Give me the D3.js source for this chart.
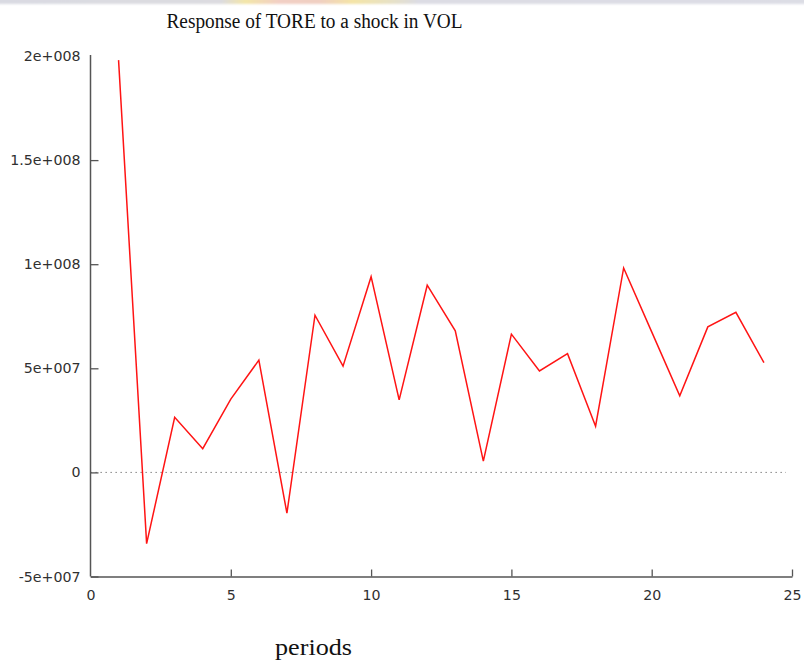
<!DOCTYPE html>
<html>
<head>
<meta charset="utf-8">
<script src="https://cdn.jsdelivr.net/npm/d3@7/dist/d3.min.js"></script>
<style>
  html, body { margin: 0; padding: 0; background: #ffffff; }
  svg { display: block; }
</style>
</head>
<body>
<svg id="chart" width="804" height="664"></svg>
<script>
// Impulse response of TORE to a shock in VOL, periods 1..24
const periods = d3.range(1, 25);
const response = [
  1.98e8, -3.42e7, 2.65e7, 1.14e7, 3.52e7, 5.39e7, -1.96e7, 7.55e7,
  5.10e7, 9.40e7, 3.48e7, 8.99e7, 6.80e7, 0.54e7, 6.64e7, 4.87e7,
  5.70e7, 2.22e7, 9.82e7, 6.75e7, 3.68e7, 6.99e7, 7.69e7, 5.27e7
];
const xTicks = [0, 5, 10, 15, 20, 25];
const yTicks = [-5e7, 0, 5e7, 1e8, 1.5e8, 2e8];

const titleText = "Response of TORE to a shock in VOL";
const xLabelText = "periods";

const svg = d3.select("#chart");

// faint strip along the top edge
const defs = svg.append("defs");
const grad = defs.append("linearGradient").attr("id", "topStrip");
[[0, "#d9dae2"], [0.28, "#dcdbe0"], [0.31, "#f3e6a8"], [0.35, "#f2cfc4"],
 [0.40, "#f0cfc2"], [0.44, "#f4e4a6"], [0.49, "#e6e1c8"], [0.52, "#dcdce4"], [1, "#dcdde5"]]
  .forEach(([o, c]) => grad.append("stop").attr("offset", o).attr("stop-color", c));
const blur = defs.append("filter").attr("id", "soft").attr("y", "-100%").attr("height", "300%");
blur.append("feGaussianBlur").attr("stdDeviation", 1.2);
svg.append("rect")
  .attr("x", -10).attr("y", -4).attr("width", 824).attr("height", 8)
  .attr("fill", "url(#topStrip)")
  .attr("filter", "url(#soft)");

const x = d3.scaleLinear().domain([0, 25]).range([90.5, 792]);
const y = d3.scaleLinear().domain([-5e7, 2e8]).range([576.5, 56]);

// exponent written with three digits, e.g. 1.5e+008
const fmt = v => {
  if (v === 0) return "0";
  const [m, e] = v.toExponential().split("e");
  const sign = e[0];
  const digits = e.slice(1).padStart(3, "0");
  return m + "e" + sign + digits;
};

const axisColor = "#555555";
const labelColor = "#303030";
const tickFont = "'DejaVu Sans', Verdana, sans-serif";

// zero reference line
svg.append("line")
  .attr("x1", x(0)).attr("x2", 786)
  .attr("y1", y(0)).attr("y2", y(0))
  .attr("stroke", "#707070")
  .attr("stroke-width", 1)
  .attr("stroke-dasharray", "1.3,3.7");

// left axis
const gy = svg.append("g")
  .attr("transform", `translate(${x(0)},0)`)
  .call(d3.axisLeft(y).tickValues(yTicks).tickFormat(fmt)
    .tickSize(-8).tickSizeOuter(0).tickPadding(10));
gy.select(".domain").attr("d", `M0,55V${y(-5e7)}`);
gy.selectAll(".tick").filter(d => d === 2e8).select("line").remove();

// bottom axis
const gx = svg.append("g")
  .attr("transform", `translate(0,${y(-5e7)})`)
  .call(d3.axisBottom(x).tickValues(xTicks).tickFormat(d3.format("d"))
    .tickSize(-7).tickSizeOuter(0).tickPadding(13));
gx.selectAll(".tick").filter(d => d === 0).select("line").remove();

[gx, gy].forEach(g => {
  g.select(".domain").attr("stroke", axisColor).attr("stroke-width", 1.5);
  g.selectAll(".tick line").attr("stroke", axisColor).attr("stroke-width", 1.3);
  g.selectAll(".tick text")
    .attr("fill", labelColor)
    .style("font-family", tickFont)
    .style("font-size", "14.2px");
});

// response line
const line = d3.line()
  .x((d, i) => x(periods[i]))
  .y(d => y(d));
svg.append("path")
  .datum(response)
  .attr("d", line)
  .attr("fill", "none")
  .attr("stroke", "#ff1414")
  .attr("stroke-width", 1.5)
  .attr("stroke-linejoin", "miter");

// title
svg.append("text")
  .attr("x", 314.5).attr("y", 28)
  .attr("text-anchor", "middle")
  .attr("textLength", 296)
  .attr("lengthAdjust", "spacingAndGlyphs")
  .style("font-family", "'Liberation Serif', 'Times New Roman', serif")
  .style("font-size", "20px")
  .attr("fill", "#111111")
  .text(titleText);

// x-axis label
svg.append("text")
  .attr("x", 313.5).attr("y", 655)
  .attr("text-anchor", "middle")
  .attr("textLength", 77)
  .attr("lengthAdjust", "spacingAndGlyphs")
  .style("font-family", "'Liberation Serif', 'Times New Roman', serif")
  .style("font-size", "23px")
  .attr("fill", "#111111")
  .text(xLabelText);
</script>
</body>
</html>
